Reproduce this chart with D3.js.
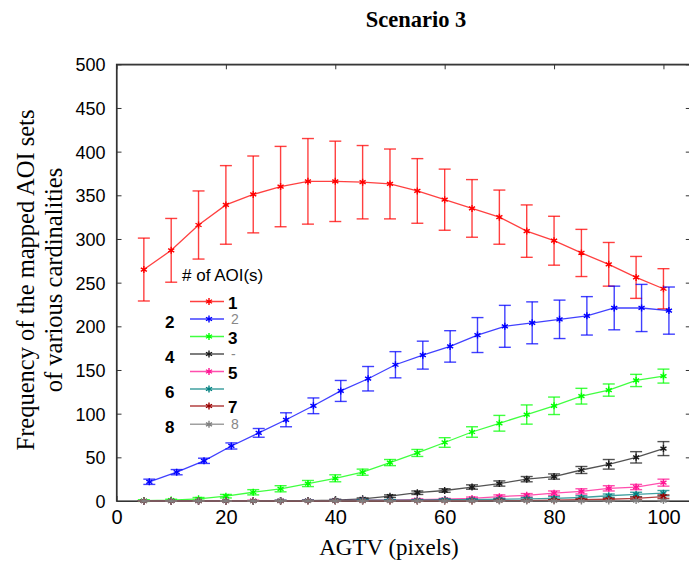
<!DOCTYPE html>
<html><head><meta charset="utf-8">
<script src="https://cdn.jsdelivr.net/npm/d3@7"></script>
<style>
html,body{margin:0;padding:0;background:#fff;}
svg{display:block;}
</style></head>
<body><svg id="chart" width="689" height="567"></svg>
<script>
// ---- data ----
const titleText = "Scenario 3";
const xLabel = "AGTV (pixels)";
const yLabelLines = ["Frequency of the mapped AOI sets", "of various cardinalities"];
const legendTitle = "# of AOI(s)";
const xValues = [5,10,15,20,25,30,35,40,45,50,55,60,65,70,75,80,85,90,95,100];
const xTicks = [0,20,40,60,80,100];
const yTicks = [0,50,100,150,200,250,300,350,400,450,500];
const seriesNames = ["1","2","3","4","5","6","7","8"];
const seriesColors = ["#ff0000","#0000ff","#00ff00","#1a1a1a","#ff1493","#008080","#990000","#808080"];
const seriesXShift = [0,1,0,0,0,0,0,0];

const mean1 = [265,287,316,339,351,360,366,366,365,363,355,345,335,325,309,298,284,271,256,243];
const err1  = [36,36.5,39,45,44,46,49,46,42,40,37,35,33,31,30,28,27,25,24,23];
const mean2 = [22,33,46,63,78,93,109,126,140,156,167,177,190,200,204,208,212,221,221,218];
const err2  = [3,3,3,3.5,5,8,9,12,14,15,16,18,20,24,24,22,22,25,27,27];
const mean3 = [0.5,1,2.5,5.5,10,14,20,26,33,44,55,67,79,89,99,109,120,127,138,143];
const err3  = [1,1,1.5,2,3,3.5,3.5,4,3.5,3.5,4,5.5,6,9,11,10,9,7,7,8];
const mean4 = [0,0,0,0,0,0,0.5,1,2.5,5.5,9.5,12,16,20,25,28,35.5,42,50,60];
const err4  = [0,0,0,0,0,0,0.5,1,1,1.5,2,2,2.5,3,3,3,4,5.5,6.5,8];
const mean5 = [0,0,0,0,0.5,0.5,0.5,0.5,1,1,1.5,2,3,5,6.5,9,11,14.5,16,21];
const err5  = [0,0,0,0,0.5,0.5,0.5,0.5,0.5,0.5,1,1,1.5,2,2,2.5,3,3,3,4];
const mean6 = [0,0,0,0,0,0.5,0.5,0.5,1,1,1,1.5,1.5,2,2.5,3,4,6,7.5,9];
const err6  = [0,0,0,0,0,0.5,0.5,0.5,0.5,0.5,0.5,1,1,1,1.5,2,2,2,2.5,3];
const mean7 = [0,0,0,0,0,0,0,0,0,0,0,0,0,0.5,0.5,1,1.5,2,3,5];
const err7  = [0,0,0,0,0,0,0,0,0,0,0,0,0,0.5,0.5,0.5,1,1,1.5,2];
const mean8 = [0,0,0,0,0,0,0,0,0,0,0,0,0,0,0,0,0,0,0.5,0.5];
const err8  = [0,0,0,0,0,0,0,0,0,0,0,0,0,0,0,0,0,0,0.5,0.5];

const means = [mean1,mean2,mean3,mean4,mean5,mean6,mean7,mean8];
const errs  = [err1,err2,err3,err4,err5,err6,err7,err8];

// ---- layout ----
const svg = d3.select("#chart");
const L = 116.5, R = 690.8, T = 64.3, B = 501;
const x = d3.scaleLinear().domain([0,105]).range([L,R]);
const y = d3.scaleLinear().domain([0,500]).range([B,T]);

// title
svg.append("text").attr("x",416).attr("y",27).attr("text-anchor","middle")
  .attr("font-family","'Liberation Serif','Times New Roman',serif").attr("font-weight","bold")
  .attr("font-size",22.5).text(titleText);

// frame
svg.append("rect").attr("x",L).attr("y",T).attr("width",R-L).attr("height",B-T)
  .attr("fill","none").attr("stroke","#333").attr("stroke-width",1.2);

// axes
const tickFont = "'Liberation Sans',Arial,sans-serif";
const gx = svg.append("g").attr("transform",`translate(0,${B})`)
  .call(d3.axisBottom(x).tickValues(xTicks).tickSizeInner(-5).tickSizeOuter(0).tickPadding(9));
const gxTop = svg.append("g").attr("transform",`translate(0,${T})`)
  .call(d3.axisTop(x).tickValues(xTicks).tickSizeInner(-5).tickSizeOuter(0).tickFormat(""));
const gy = svg.append("g").attr("transform",`translate(${L},0)`)
  .call(d3.axisLeft(y).tickValues(yTicks).tickSizeInner(-5).tickSizeOuter(0).tickPadding(11));
const gyR = svg.append("g").attr("transform",`translate(${R},0)`)
  .call(d3.axisRight(y).tickValues(yTicks).tickSizeInner(-5).tickSizeOuter(0).tickFormat(""));
[gx,gxTop,gy,gyR].forEach(g=>{
  g.select(".domain").attr("stroke","#333").attr("stroke-width",1.2);
  g.selectAll(".tick line").attr("stroke","#333");
  g.selectAll("text").attr("font-family",tickFont).attr("fill","#000");
});
gx.selectAll("text").attr("font-size",20);
gy.selectAll("text").attr("font-size",18).attr("dy","0.36em");

// axis labels
const serif = "'Liberation Serif','Times New Roman',serif";
svg.append("text").attr("x",389).attr("y",555).attr("text-anchor","middle")
  .attr("font-family",serif).attr("font-size",23).text(xLabel);
const yl = svg.append("text").attr("transform","translate(0,280) rotate(-90)")
  .attr("text-anchor","middle").attr("font-family",serif).attr("font-size",24.5);
yl.append("tspan").attr("x",0).attr("y",34).text(yLabelLines[0]);
yl.append("tspan").attr("x",0).attr("y",62).text(yLabelLines[1]);

// series
const plot = svg.append("g");
const marker = d3.symbol().type(d3.symbolAsterisk).size(34);
const capW = 6;
means.forEach((m,si)=>{
  const col = seriesColors[si];
  const pts = xValues.map((xv,i)=>({x:xv+seriesXShift[si], y:m[i], e:errs[si][i]}));
  const g = plot.append("g").attr("stroke",col).attr("fill","none");
  // error bars
  const eb = g.selectAll("g.eb").data(pts).join("g").attr("class","eb").attr("stroke-opacity",0.75).attr("stroke-width",1.4);
  eb.append("line").attr("x1",d=>x(d.x)).attr("x2",d=>x(d.x)).attr("y1",d=>y(d.y-d.e)).attr("y2",d=>y(d.y+d.e));
  eb.append("line").attr("x1",d=>x(d.x)-capW).attr("x2",d=>x(d.x)+capW).attr("y1",d=>y(d.y+d.e)).attr("y2",d=>y(d.y+d.e));
  eb.append("line").attr("x1",d=>x(d.x)-capW).attr("x2",d=>x(d.x)+capW).attr("y1",d=>y(d.y-d.e)).attr("y2",d=>y(d.y-d.e));
  // line
  g.append("path").datum(pts).attr("stroke-width",1.3).attr("stroke-opacity",0.75)
    .attr("d",d3.line().x(d=>x(d.x)).y(d=>y(d.y)).curve(d3.curveLinear));
  // markers
  g.selectAll("path.mk").data(pts).join("path").attr("class","mk")
    .attr("transform",d=>`translate(${x(d.x)},${y(d.y)})`).attr("d",marker).attr("stroke-width",1.4);
});

// legend
const lg = svg.append("g");
lg.append("text").attr("x",182).attr("y",281).attr("font-family","'Liberation Sans',Arial,sans-serif")
  .attr("font-size",17).text(legendTitle);
const legRowsY = [301.5,319,336.5,354,371.5,389,406,424.3];
const bigRight = ["1","","3","","5","","7",""];
const bigLeft  = ["","2","","4","","6","","8"];
const faintRight = ["","2","","-","","","","8"];
seriesNames.forEach((nm,i)=>{
  const yy = legRowsY[i];
  const col = seriesColors[i];
  lg.append("line").attr("x1",190).attr("x2",224).attr("y1",yy).attr("y2",yy)
    .attr("stroke",col).attr("stroke-width",1.5).attr("stroke-opacity",0.75);
  lg.append("path").attr("transform",`translate(209,${yy})`).attr("d",marker)
    .attr("stroke",col).attr("fill","none").attr("stroke-width",1.4);
  if (bigRight[i]) lg.append("text").attr("x",228).attr("y",yy+7).attr("font-family","'Liberation Sans',Arial,sans-serif")
    .attr("font-weight","bold").attr("font-size",17).text(bigRight[i]);
  if (bigLeft[i]) lg.append("text").attr("x",165).attr("y",yy+9).attr("font-family","'Liberation Sans',Arial,sans-serif")
    .attr("font-weight","bold").attr("font-size",17).text(bigLeft[i]);
  if (faintRight[i]) lg.append("text").attr("x",231).attr("y",yy+5).attr("font-family","'Liberation Sans',Arial,sans-serif")
    .attr("font-size",14).attr("fill","#888").text(faintRight[i]);
});
</script>
</body></html>
